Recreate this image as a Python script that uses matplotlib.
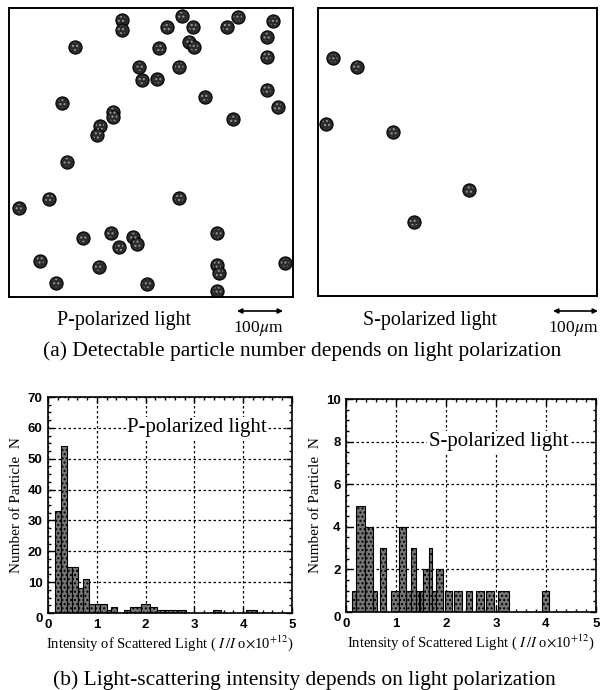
import numpy as np
import matplotlib
matplotlib.use("Agg")
import matplotlib.pyplot as plt

plt.rcParams["mathtext.fontset"] = "stix"
SERIF = ["Liberation Serif", "DejaVu Serif"]
SANS = ["Liberation Sans", "DejaVu Sans"]

W, H = 605, 690

# particle centres (image pixel coords)
p_x = [121.7, 121.7, 181.7, 166.7, 192.7, 226.7, 237.7, 273.3, 266.7, 75.0,
       159.3, 189.3, 194.0, 266.7, 139.3, 179.3, 141.7, 157.3, 266.7, 205.0,
       277.7, 61.7, 112.7, 113.3, 233.3, 100.0, 97.3, 67.3, 49.3, 179.3,
       19.3, 217.3, 82.7, 110.7, 133.3, 136.7, 119.3, 40.0, 99.0, 217.3,
       219.3, 285.0, 55.7, 146.7, 217.3]
p_y = [20.0, 30.0, 16.0, 27.3, 26.7, 26.7, 16.7, 21.0, 36.7, 46.7,
       48.3, 41.7, 46.7, 56.7, 66.7, 66.7, 80.0, 79.3, 90.0, 96.7,
       107.3, 103.3, 111.7, 117.3, 119.3, 126.0, 135.0, 161.7, 198.7, 198.3,
       208.3, 233.3, 238.3, 233.3, 236.7, 244.0, 247.3, 260.7, 266.7, 265.0,
       273.3, 262.7, 282.7, 284.0, 291.0]
s_x = [333.3, 356.7, 326.0, 392.7, 469.3, 414.0]
s_y = [58.3, 66.7, 124.0, 131.7, 190.0, 221.7]

# histogram bins (left edge, width) and counts
p_left = [0.14, 0.26, 0.38, 0.50, 0.62, 0.72, 0.84, 0.96, 1.06, 1.20, 1.30,
          1.42, 1.56, 1.68, 1.90, 2.08, 2.24, 2.40, 2.66, 3.38, 4.06]
p_width = [0.12, 0.12, 0.12, 0.12, 0.10, 0.12, 0.12, 0.10, 0.14, 0.10, 0.12,
           0.14, 0.12, 0.22, 0.18, 0.16, 0.16, 0.24, 0.16, 0.16, 0.22]
p_count = [33, 54, 15, 15, 8, 11, 3, 3, 3, 1, 2, 0, 1, 2, 3, 2, 1, 1, 1, 1, 1]

s_left = [0.12, 0.20, 0.38, 0.54, 0.67, 0.89, 1.05, 1.19, 1.29, 1.40, 1.48,
          1.54, 1.65, 1.72, 1.80, 1.98, 2.16, 2.40, 2.60, 2.80, 3.03, 3.92]
s_width = [0.08, 0.18, 0.16, 0.07, 0.12, 0.16, 0.14, 0.10, 0.11, 0.06, 0.06,
           0.11, 0.07, 0.08, 0.14, 0.13, 0.16, 0.12, 0.15, 0.15, 0.22, 0.13]
s_count = [1, 5, 4, 1, 3, 1, 4, 1, 3, 1, 1, 2, 3, 1, 2, 1, 1, 1, 1, 1, 1, 1]


def px_axes(fig, l, t, r, b):
    return fig.add_axes([l / W, 1 - b / H, (r - l) / W, (b - t) / H])


def micro(ax, xs, ys, box):
    l, t, r, b = box
    ax.scatter(xs, ys, s=90, facecolor="#2b2b2b", edgecolor="black", lw=0.8, zorder=2)
    ax.scatter(xs, ys, s=36, facecolor="none", edgecolor="#9a9a9a", hatch="....",
               lw=0, zorder=3)
    ax.set_xlim(l, r)
    ax.set_ylim(b, t)
    ax.set_xticks([]); ax.set_yticks([])
    for sp in ax.spines.values():
        sp.set_linewidth(1.4)


def hist(ax, left, width, count, ymax, ystep, label, ylab_top):
    ax.bar(left, count, width=width, align="edge", facecolor="#767676",
           edgecolor="black", hatch="....", lw=0.8, zorder=2)
    ax.set_xlim(0, 5)
    ax.set_ylim(0, ymax)
    ax.set_xticks(range(6))
    ax.set_yticks(np.arange(0, ymax + 1, ystep))
    ax.set_xticks(np.arange(0, 5.01, 0.2), minor=True)
    ax.set_yticks(np.arange(0, ymax + 0.01, ystep / 4), minor=True)
    ax.tick_params(which="both", direction="in", top=True, right=True, width=1)
    ax.tick_params(which="major", length=4, labelsize=9.5, pad=4)
    ax.tick_params(which="minor", length=2)
    for t in ax.get_xticklabels() + ax.get_yticklabels():
        t.set_family(SANS); t.set_fontweight("bold")
    ax.get_yticklabels()[0].set_verticalalignment("top")
    ax.grid(True, ls=(0, (2, 2)), color="black", lw=0.9, zorder=1)
    for sp in ax.spines.values():
        sp.set_linewidth(1.2)
    ax.set_ylabel("Number of Particle  N", family=SERIF, fontsize=11, labelpad=3)
    ax.set_xlabel("Intensity of Scattered Light ( $I\\,/I$ o$\\times$10$^{+12}$)",
                  family=SERIF, fontsize=10.5, labelpad=2)
    ax.text(3.05, ylab_top, label, family=SERIF, fontsize=15, ha="center",
            va="center", zorder=4,
            bbox=dict(facecolor="white", edgecolor="none", pad=1))


fig = plt.figure(figsize=(W / 100, H / 100), dpi=100)

box_p = (9.3, 8.3, 293.0, 297.0)
box_s = (318.3, 8.3, 597.3, 295.7)
micro(px_axes(fig, *box_p), p_x, p_y, box_p)
micro(px_axes(fig, *box_s), s_x, s_y, box_s)

hist(px_axes(fig, 48, 397, 292, 613), p_left, p_width, p_count, 70, 10,
     "P-polarized light", 60)
hist(px_axes(fig, 346, 399, 596, 612), s_left, s_width, s_count, 10, 2,
     "S-polarized light", 8)

# captions / scale bars on a full-figure overlay in pixel coords
ov = fig.add_axes([0, 0, 1, 1], zorder=-1)
ov.set_xlim(0, W); ov.set_ylim(H, 0); ov.axis("off")
ov.text(124, 321, "P-polarized light", family=SERIF, fontsize=14.4, ha="center", va="center")
ov.text(430, 321, "S-polarized light", family=SERIF, fontsize=14.4, ha="center", va="center")
for x0, x1 in [(237, 283), (553, 598)]:
    ov.annotate("", xy=(x1, 311), xytext=(x0, 311),
                arrowprops=dict(arrowstyle="<|-|>", lw=1.2, color="black",
                                mutation_scale=7, shrinkA=0, shrinkB=0))
    ov.text((x0 + x1) / 2 - 2, 328, "100$\\mu$m", family=SERIF, fontsize=12.5,
            ha="center", va="center")
ov.text(302, 351, "(a) Detectable particle number depends on light polarization",
        family=SERIF, fontsize=15.5, ha="center", va="center")
ov.text(304, 680, "(b) Light-scattering intensity depends on light polarization",
        family=SERIF, fontsize=15.5, ha="center", va="center")

fig.savefig("out.png", dpi=100)
